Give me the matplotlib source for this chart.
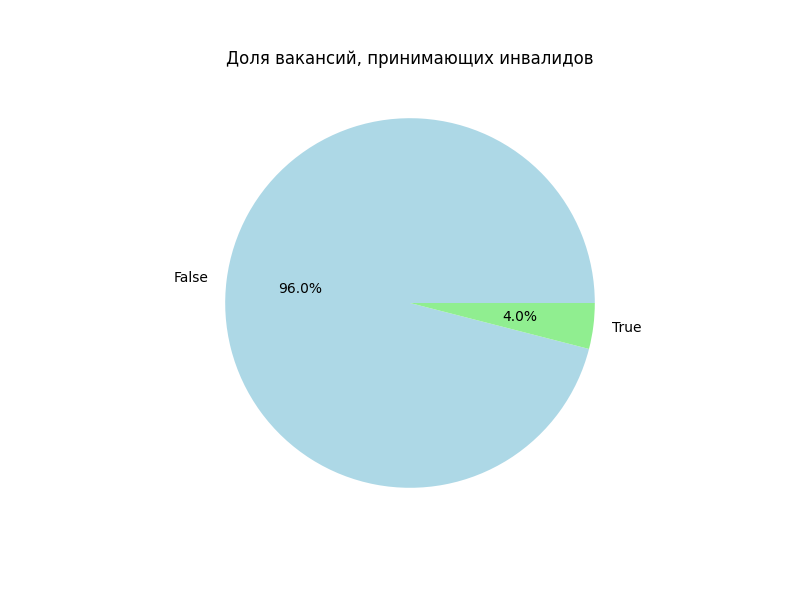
import matplotlib
matplotlib.use("Agg")
import matplotlib.pyplot as plt

metki = ["False", "True"]
doli = [96.0, 4.0]
cveta = ["lightblue", "lightgreen"]

plt.figure(figsize=(8, 6))
plt.pie(doli, labels=metki, colors=cveta, autopct="%1.1f%%")
plt.title("Доля вакансий, принимающих инвалидов")
plt.savefig("out.png", dpi=100)
